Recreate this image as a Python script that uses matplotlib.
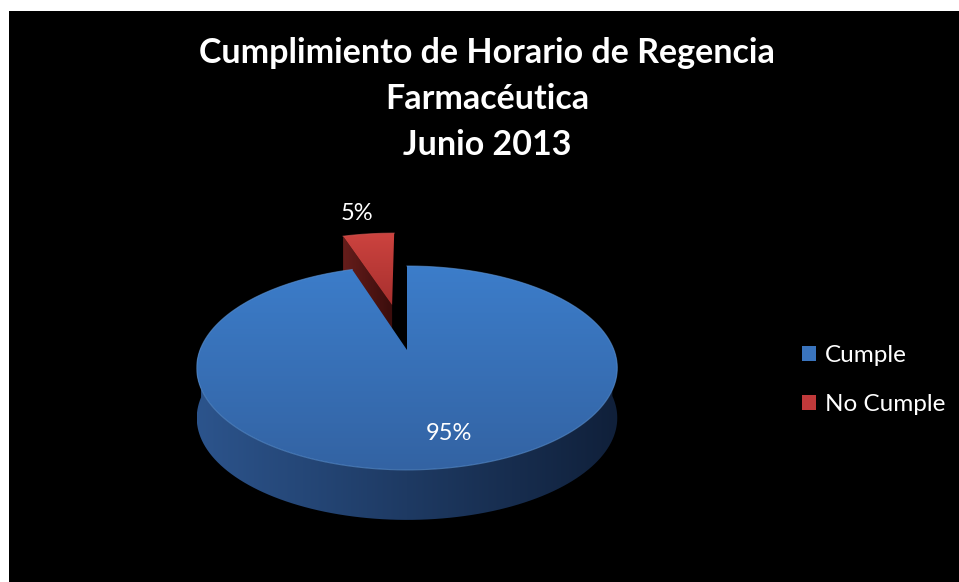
import numpy as np
import matplotlib
matplotlib.use("Agg")
import matplotlib.pyplot as plt
from matplotlib.patches import Polygon, Rectangle, Patch
from matplotlib.colors import LinearSegmentedColormap

plt.rcParams["font.family"] = ["Lato", "DejaVu Sans"]

TITLE = "Cumplimiento de Horario de Regencia\nFarmacéutica\nJunio 2013"
LABELS = ["Cumple", "No Cumple"]
VALUES = [95, 5]
EXPLODE = [0.0, 0.5]
TOP_COLORS = [("#3c7dca", "#3363a3"), ("#cc433f", "#a8302e")]
SIDE_COLORS = [("#2c548c", "#10203a"), ("#661d1b", "#3a0d0c")]
LEGEND_COLORS = ["#3a74bd", "#c0393a"]

W, H = 959, 582
fig = plt.figure(figsize=(W / 100, H / 100), dpi=100, facecolor="white")
ax = fig.add_axes([0, 0, 1, 1])
ax.set_xlim(0, W)
ax.set_ylim(H, 0)
ax.axis("off")
ax.add_patch(Rectangle((9, 11), W - 9, H - 11, facecolor="black", edgecolor="none", zorder=0))

# pie geometry (pixels) with a mild perspective
CX, CY, A, B, K, DEPTH = 407, 350, 207, 98.8, 0.176, 50


def proj(u, v, dz=0.0):
    w = 1 + K * v
    return CX + A * u / w, CY - B * v / w + dz


def grad_fill(poly_xy, c0, c1, horizontal=False, z=2):
    poly = Polygon(poly_xy, closed=True, facecolor="none", edgecolor="none", zorder=z)
    ax.add_patch(poly)
    x0, y0 = poly_xy.min(axis=0)
    x1, y1 = poly_xy.max(axis=0)
    cmap = LinearSegmentedColormap.from_list("g", [c0, c1])
    g = np.linspace(0, 1, 256)
    arr = g[None, :] if horizontal else g[:, None]
    im = ax.imshow(arr, cmap=cmap, extent=(x0, x1, y1, y0), origin="upper",
                   aspect="auto", zorder=z, interpolation="bilinear")
    im.set_clip_path(poly)


fracs = np.array(VALUES, dtype=float) / sum(VALUES)
starts = np.concatenate([[0], np.cumsum(fracs)[:-1]]) * 2 * np.pi
ends = np.cumsum(fracs) * 2 * np.pi

# draw the exploded (back) slice first, then the big one
order = np.argsort([-e for e in EXPLODE])
for i in order:
    t0, t1 = starts[i], ends[i]
    mid = (t0 + t1) / 2
    ou, ov = EXPLODE[i] * np.sin(mid), EXPLODE[i] * np.cos(mid)
    th = np.linspace(t0, t1, 200)
    ru, rv = ou + np.sin(th), ov + np.cos(th)
    top = np.array([proj(ou, ov)] + [proj(a, b) for a, b in zip(ru, rv)])
    # outer wall: visible front part
    front = np.cos(th) < 0.05
    if front.any():
        tu, tv = ru[front], rv[front]
        upper = np.array([proj(a, b) for a, b in zip(tu, tv)])
        lower = upper + np.array([0, DEPTH])
        wall = np.vstack([upper, lower[::-1]])
        grad_fill(wall, SIDE_COLORS[i][0], SIDE_COLORS[i][1], horizontal=True, z=2)
    # cut face at the slice's start edge when it faces the viewer (small slice)
    if fracs[i] < 0.5:
        ea = t0
        p_in = np.array(proj(ou, ov))
        p_out = np.array(proj(ou + np.sin(ea), ov + np.cos(ea)))
        face = np.array([p_out, p_in, p_in + [0, DEPTH], p_out + [0, DEPTH]])
        grad_fill(face, SIDE_COLORS[i][0], SIDE_COLORS[i][1], horizontal=True, z=2)
    grad_fill(top, TOP_COLORS[i][0], TOP_COLORS[i][1], z=3)
    ax.plot(top[1:, 0], top[1:, 1], color="#5d95d6" if i == 0 else "#d65a55",
            lw=0.8, alpha=0.6, zorder=4)

# percentage labels
ax.text(357, 213, f"{VALUES[1]}%", color="white", fontsize=17, ha="center", va="center", zorder=5)
ax.text(449, 434, f"{VALUES[0]}%", color="white", fontsize=17, ha="center", va="center", zorder=5)

# title
for k, line in enumerate(TITLE.split("\n")):
    ax.text(487, 53 + 46 * k, line, color="white", fontsize=24.5, fontweight="bold",
            ha="center", va="center", zorder=5)

handles = [Patch(facecolor=c, edgecolor="none") for c in LEGEND_COLORS]
leg = ax.legend(handles, LABELS, loc="center left", bbox_to_anchor=(780 / W, 1 - 380 / H),
                frameon=False, fontsize=17.5, labelcolor="white", handlelength=0.6,
                handleheight=0.6, handletextpad=0.35, labelspacing=1.15)

fig.savefig("out.png", dpi=100, facecolor="white")
